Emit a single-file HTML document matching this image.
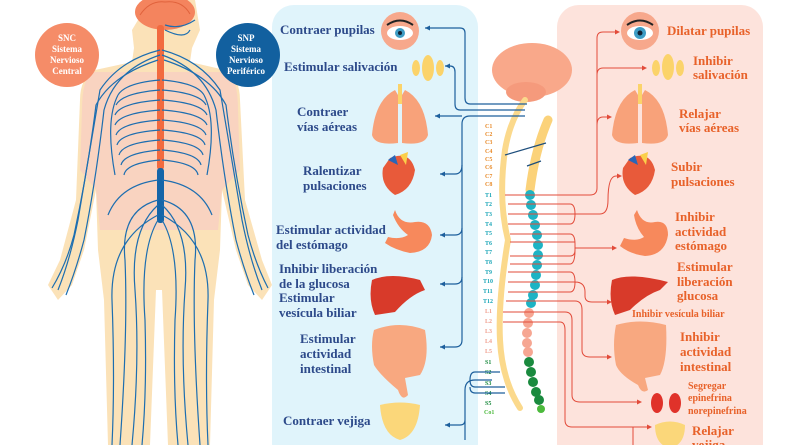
<!DOCTYPE html>
<html><head><meta charset="utf-8"><style>
html,body{margin:0;padding:0;background:#fff;width:800px;height:445px;overflow:hidden}
svg{display:block}
.lb{font-family:"Liberation Serif",serif;font-weight:bold;font-size:13px;fill:#2d4a8a}
.rb{font-family:"Liberation Serif",serif;font-weight:bold;font-size:13px;fill:#e8622a}
.v{font-family:"Liberation Serif",serif;font-weight:bold;font-size:6px}
</style></head><body>
<svg width="800" height="445" viewBox="0 0 800 445" xmlns="http://www.w3.org/2000/svg">
<rect x="272" y="5" width="206" height="460" rx="22" fill="#e0f4fb"/>
<rect x="557" y="5" width="206" height="460" rx="22" fill="#fde3dc"/>

<g>
<path d="M150 0 L195 0 L200 30 L192 48 L190 62 L225 70 Q240 78 240 100 L245 200 L262 260 L272 285 L262 300 L248 285 L236 250 L222 190 L220 250 L214 300 L210 445 L168 445 L162 290 L156 290 L150 445 L108 445 L104 300 L98 250 L96 190 L84 250 L72 285 L58 300 L48 285 L60 260 L76 200 L80 100 Q80 78 95 70 L132 62 L134 48 L132 30 Z" fill="#fbe2b8"/>
<path d="M92 72 L228 72 Q238 80 238 110 L240 170 L222 190 L218 230 L100 230 L96 190 L80 170 L82 110 Q82 80 92 72 Z" fill="#f9d3c0"/>
<ellipse cx="165" cy="12" rx="30" ry="18" fill="#f4845e"/>
<path d="M140 15 Q150 0 165 2 Q182 0 190 14" stroke="#e0623c" fill="none"/>
<rect x="157" y="25" width="7" height="145" rx="3" fill="#f26a3f"/>
<rect x="157" y="168" width="7" height="55" rx="3" fill="#1565a8"/>
<g stroke="#1d6eb0" stroke-width="1.2" fill="none">
<path d="M160 80 Q125 83 118 95 M160 90 Q122 93 116 105 M160 100 Q120 103 115 115 M160 110 Q120 113 115 125 M160 120 Q120 123 116 135 M160 130 Q120 133 117 145 M160 140 Q122 143 119 155 M160 150 Q124 153 121 165 M160 160 Q126 163 124 175"/>
<path d="M162 80 Q197 83 204 95 M162 90 Q200 93 206 105 M162 100 Q202 103 207 115 M162 110 Q202 113 207 125 M162 120 Q202 123 206 135 M162 130 Q202 133 205 145 M162 140 Q200 143 203 155 M162 150 Q198 153 201 165 M162 160 Q196 163 198 175"/>
<path d="M118 95 Q105 120 115 175 M204 95 Q217 120 207 175"/>
<path d="M160 50 Q120 60 100 90 Q90 150 78 220 Q70 260 58 290"/>
<path d="M160 55 Q115 70 104 110 Q96 180 84 240 Q76 270 66 295"/>
<path d="M158 60 Q112 75 96 105 Q88 170 74 235 Q66 265 52 288"/>
<path d="M162 50 Q200 60 220 90 Q230 150 242 220 Q250 260 262 290"/>
<path d="M162 55 Q205 70 216 110 Q224 180 236 240 Q244 270 254 295"/>
<path d="M164 60 Q210 75 226 105 Q234 170 248 235 Q256 265 268 288"/>
<path d="M158 200 Q120 210 125 260 Q128 330 120 445 M158 205 Q130 230 135 290 Q140 360 132 445 M158 215 Q110 240 112 300 Q115 380 112 445 M158 220 Q140 250 145 320 Q147 390 142 445"/>
<path d="M162 200 Q200 210 195 260 Q192 330 200 445 M162 205 Q190 230 185 290 Q180 360 188 445 M162 215 Q210 240 208 300 Q205 380 208 445 M162 220 Q180 250 175 320 Q173 390 178 445"/>
<path d="M158 180 Q120 185 108 215 M162 180 Q200 185 212 215"/>
<path d="M165 25 Q180 30 195 20 M165 30 Q185 40 190 30"/>
</g>
</g>
<circle cx="67" cy="55" r="32" fill="#f58c68"/>
<text x="67" y="41" text-anchor="middle" font-family="Liberation Serif,serif" font-weight="bold" font-size="9" fill="#fff">SNC</text>
<text x="67" y="52" text-anchor="middle" font-family="Liberation Serif,serif" font-weight="bold" font-size="9" fill="#fff">Sistema</text>
<text x="67" y="63" text-anchor="middle" font-family="Liberation Serif,serif" font-weight="bold" font-size="9" fill="#fff">Nervioso</text>
<text x="67" y="74" text-anchor="middle" font-family="Liberation Serif,serif" font-weight="bold" font-size="9" fill="#fff">Central</text>
<circle cx="248" cy="55" r="32" fill="#12609f"/>
<text x="246" y="41" text-anchor="middle" font-family="Liberation Serif,serif" font-weight="bold" font-size="9" fill="#fff">SNP</text>
<text x="246" y="52" text-anchor="middle" font-family="Liberation Serif,serif" font-weight="bold" font-size="9" fill="#fff">Sistema</text>
<text x="246" y="63" text-anchor="middle" font-family="Liberation Serif,serif" font-weight="bold" font-size="9" fill="#fff">Nervioso</text>
<text x="246" y="74" text-anchor="middle" font-family="Liberation Serif,serif" font-weight="bold" font-size="9" fill="#fff">Periférico</text>

<ellipse cx="532" cy="70" rx="40" ry="27" fill="#f9a88a"/>
<ellipse cx="526" cy="92" rx="20" ry="10" fill="#f59a7c"/>
<path d="M525 100 Q510 120 505 150 Q498 200 508 240 Q498 300 500 340 Q502 380 520 408" stroke="#fbd98c" stroke-width="6" fill="none" stroke-linecap="round"/>
<path d="M548 120 Q535 150 530 190" stroke="#fbd27a" stroke-width="9" fill="none" stroke-linecap="round"/>
<g fill="#1db3c4">
<circle cx="530" cy="195" r="5"/><circle cx="531" cy="205" r="5"/><circle cx="533" cy="215" r="5"/><circle cx="535" cy="225" r="5"/><circle cx="537" cy="235" r="5"/><circle cx="538" cy="245" r="5"/><circle cx="538" cy="255" r="5"/><circle cx="537" cy="265" r="5"/><circle cx="536" cy="275" r="5"/><circle cx="535" cy="285" r="5"/><circle cx="533" cy="295" r="5"/><circle cx="531" cy="303" r="5"/>
</g>
<g fill="#f6a692"><circle cx="529" cy="313" r="5"/><circle cx="528" cy="323" r="5"/><circle cx="527" cy="333" r="5"/><circle cx="527" cy="343" r="5"/><circle cx="528" cy="352" r="5"/></g>
<g fill="#1a8a3e"><circle cx="529" cy="362" r="5"/><circle cx="531" cy="372" r="5"/><circle cx="533" cy="382" r="5"/><circle cx="536" cy="392" r="5"/><circle cx="539" cy="400" r="5"/></g>
<circle cx="541" cy="409" r="4" fill="#4cba3c"/>
<path d="M505 155 L546 143 M527 166 L541 161" stroke="#1d4e7c" stroke-width="1.2"/>
<g class="v">
<text x="485" y="128" fill="#e88b2a">C1</text><text x="485" y="136" fill="#e88b2a">C2</text><text x="485" y="144" fill="#e88b2a">C3</text><text x="485" y="153" fill="#e88b2a">C4</text><text x="485" y="161" fill="#e88b2a">C5</text><text x="485" y="169" fill="#e88b2a">C6</text><text x="485" y="178" fill="#e88b2a">C7</text><text x="485" y="186" fill="#e88b2a">C8</text>
<text x="485" y="197" fill="#1ba6b8">T1</text><text x="485" y="206" fill="#1ba6b8">T2</text><text x="485" y="216" fill="#1ba6b8">T3</text><text x="485" y="226" fill="#1ba6b8">T4</text><text x="485" y="235" fill="#1ba6b8">T5</text><text x="485" y="245" fill="#1ba6b8">T6</text><text x="485" y="254" fill="#1ba6b8">T7</text><text x="485" y="264" fill="#1ba6b8">T8</text><text x="485" y="274" fill="#1ba6b8">T9</text><text x="483" y="283" fill="#1ba6b8">T10</text><text x="483" y="293" fill="#1ba6b8">T11</text><text x="483" y="303" fill="#1ba6b8">T12</text>
<text x="485" y="313" fill="#f0a090">L1</text><text x="485" y="323" fill="#f0a090">L2</text><text x="485" y="333" fill="#f0a090">L3</text><text x="485" y="343" fill="#f0a090">L4</text><text x="485" y="353" fill="#f0a090">L5</text>
<text x="485" y="364" fill="#1a8a3e">S1</text><text x="485" y="374" fill="#1a8a3e">S2</text><text x="485" y="385" fill="#1a8a3e">S3</text><text x="485" y="395" fill="#1a8a3e">S4</text><text x="485" y="405" fill="#1a8a3e">S5</text><text x="484" y="414" fill="#4cba3c">Co1</text>
</g>

<g stroke="#1d5f9c" stroke-width="1.2" fill="none">
<path d="M527 104 L470 104 Q465 104 465 98 L465 33 Q465 28 460 28 L425 28"/>
<path d="M525 110 L460 110 Q455 110 455 104 L455 72 Q455 66 450 66 L445 66"/>
<path d="M525 116 L470 116 Q462 116 462 124 L462 340 Q462 347 455 347 L440 347"/>
<path d="M462 116 L435 116 M462 165 Q462 174 455 174 L440 174 M462 228 Q462 235 455 235 L440 235 M462 277 Q462 284 455 284 L440 284"/>
<path d="M500 372 L475 372 Q470 372 470 380 Q470 387 475 387 L505 387 M505 393 L475 393 Q470 393 470 387"/>
<path d="M492 380 L475 380 Q465 380 465 390 L465 440 M465 420 Q465 425 460 425 L445 425"/>
</g>
<g fill="#1d5f9c"><path d="M425 28 l5 -2.5 v5z"/><path d="M445 66 l5 -2.5 v5z"/><path d="M435 116 l5 -2.5 v5z"/><path d="M440 174 l5 -2.5 v5z"/><path d="M440 235 l5 -2.5 v5z"/><path d="M440 284 l5 -2.5 v5z"/><path d="M440 347 l5 -2.5 v5z"/><path d="M445 425 l5 -2.5 v5z"/></g>

<g stroke="#e24b3a" stroke-width="1" fill="none">
<path d="M505 195 L590 195 Q597 195 597 188 L597 38 Q597 32 603 32 L618 32"/>
<path d="M597 75 Q597 68 603 68 L645 68 M597 125 Q597 117 603 117 L610 117"/>
<path d="M508 204 L570 204 Q575 204 575 214 Q575 224 570 224 L508 224 M508 214 L575 214 M575 214 L600 214 Q608 214 608 200 Q608 176 616 176 L620 176"/>
<path d="M510 234 L570 234 Q575 234 575 244 L575 250 Q575 256 570 256 L510 256 M510 242 L575 242 M510 264 L570 264 Q575 264 575 250 M575 248 L615 248"/>
<path d="M508 272 L570 272 Q575 272 575 282 Q575 292 570 292 L508 292 M508 282 L575 282 Q585 282 585 292 L585 296 Q585 302 592 302 L610 302"/>
<path d="M506 301 L575 301 Q582 301 582 310 L582 350 Q582 357 590 357 L610 357"/>
<path d="M503 312 L565 312 Q572 312 572 320 L572 395 Q572 402 580 402 L640 402"/>
<path d="M503 322 L560 322 Q565 322 565 330 L565 420 Q565 427 572 427 L650 427 M633 427 Q633 433 633 445"/>
</g>
<g fill="#e24b3a"><path d="M620 32 l-5 -2.5 v5z"/><path d="M647 68 l-5 -2.5 v5z"/><path d="M612 117 l-5 -2.5 v5z"/><path d="M622 176 l-5 -2.5 v5z"/><path d="M617 248 l-5 -2.5 v5z"/><path d="M612 302 l-5 -2.5 v5z"/><path d="M612 357 l-5 -2.5 v5z"/><path d="M642 402 l-5 -2.5 v5z"/><path d="M652 427 l-5 -2.5 v5z"/></g>

<circle cx="400" cy="31" r="19" fill="#f7a88c"/><ellipse cx="400" cy="33" rx="13" ry="7" fill="#fff"/><circle cx="400" cy="33" r="5" fill="#3d9cc4"/><circle cx="400" cy="33" r="2" fill="#123"/><path d="M387 25 Q400 16 413 25" stroke="#222" stroke-width="2" fill="none"/>
<g fill="#fbd36a"><ellipse cx="416" cy="68" rx="4" ry="8"/><ellipse cx="428" cy="68" rx="6" ry="13"/><ellipse cx="440" cy="68" rx="4" ry="8"/></g>
<g fill="#f8a27a"><path d="M395 90 Q375 100 372 135 Q375 146 398 143 L398 95 Z"/><path d="M405 90 Q425 100 428 135 Q425 146 402 143 L402 95 Z"/></g><rect x="398" y="84" width="4" height="20" fill="#fbd36a"/>
<path d="M390 158 Q410 150 415 170 Q412 190 395 195 Q380 185 383 168 Z" fill="#e85a3a"/><path d="M388 160 L395 155 L398 165 Z" fill="#2966b8"/><path d="M400 155 L408 152 L406 165 Z" fill="#fbcf4a"/>
<path d="M395 210 Q400 225 415 222 Q430 220 432 235 Q430 252 410 253 Q395 250 385 243 L388 237 Q400 240 408 235 Q398 228 393 215 Z" fill="#f7895c"/>
<path d="M372 280 Q390 272 420 280 L425 290 Q410 295 395 312 L375 315 Q368 300 372 280 Z" fill="#d83a2a"/>
<path d="M374 330 Q400 320 425 330 Q430 360 420 375 L405 378 L408 395 Q402 402 398 390 Q380 375 374 365 Q370 345 374 330 Z" fill="#f8a880"/>
<path d="M380 405 Q400 400 420 405 Q418 435 400 440 Q382 435 380 405 Z" fill="#fbd77a"/>

<circle cx="640" cy="31" r="19" fill="#f7a88c"/><ellipse cx="640" cy="33" rx="13" ry="7" fill="#fff"/><circle cx="640" cy="33" r="6" fill="#3d9cc4"/><circle cx="640" cy="33" r="2.5" fill="#123"/><path d="M627 25 Q640 16 653 25" stroke="#222" stroke-width="2" fill="none"/>
<g fill="#fbd36a"><ellipse cx="656" cy="68" rx="4" ry="8"/><ellipse cx="668" cy="67" rx="6" ry="13"/><ellipse cx="680" cy="68" rx="4" ry="8"/></g>
<g fill="#f8a27a"><path d="M635 90 Q615 100 612 135 Q615 146 638 143 L638 95 Z"/><path d="M645 90 Q665 100 668 135 Q665 146 642 143 L642 95 Z"/></g><rect x="638" y="84" width="4" height="20" fill="#fbd36a"/>
<path d="M630 158 Q650 150 655 170 Q652 190 635 195 Q620 185 623 168 Z" fill="#e85a3a"/><path d="M628 160 L635 155 L638 165 Z" fill="#2966b8"/><path d="M640 155 L648 152 L646 165 Z" fill="#fbcf4a"/>
<path d="M637 210 Q642 225 655 222 Q668 220 668 235 Q665 255 645 256 Q630 254 620 246 L624 238 Q636 242 644 237 Q636 228 634 215 Z" fill="#f7895c"/>
<path d="M612 280 Q630 272 668 282 L660 290 Q645 295 630 310 L615 315 Q608 300 612 280 Z" fill="#d83a2a"/>
<path d="M616 325 Q640 318 666 325 Q668 360 660 375 L645 378 L648 390 Q642 395 638 385 Q620 375 616 365 Q612 345 616 325 Z" fill="#f8a880"/>
<ellipse cx="657" cy="403" rx="6" ry="10" fill="#e0322a"/><ellipse cx="675" cy="403" rx="6" ry="10" fill="#e0322a"/>
<path d="M655 425 Q670 418 685 425 Q685 445 670 448 Q655 445 655 425 Z" fill="#fbd77a"/>

<text class="lb" x="280" y="34">Contraer pupilas</text>
<text class="lb" x="284" y="71">Estimular salivación</text>
<text class="lb" x="297" y="116">Contraer</text>
<text class="lb" x="297" y="131">vías aéreas</text>
<text class="lb" x="303" y="175">Ralentizar</text>
<text class="lb" x="303" y="190">pulsaciones</text>
<text class="lb" x="276" y="234">Estimular actividad</text>
<text class="lb" x="276" y="249">del estómago</text>
<text class="lb" x="279" y="273">Inhibir liberación</text>
<text class="lb" x="279" y="288">de la glucosa</text>
<text class="lb" x="279" y="302">Estimular</text>
<text class="lb" x="279" y="317">vesícula biliar</text>
<text class="lb" x="300" y="343">Estimular</text>
<text class="lb" x="300" y="358">actividad</text>
<text class="lb" x="300" y="373">intestinal</text>
<text class="lb" x="283" y="425">Contraer vejiga</text>

<text class="rb" x="667" y="35">Dilatar pupilas</text>
<text class="rb" x="693" y="65">Inhibir</text>
<text class="rb" x="693" y="79">salivación</text>
<text class="rb" x="679" y="118">Relajar</text>
<text class="rb" x="679" y="132">vías aéreas</text>
<text class="rb" x="671" y="171">Subir</text>
<text class="rb" x="671" y="186">pulsaciones</text>
<text class="rb" x="675" y="221">Inhibir</text>
<text class="rb" x="675" y="236">actividad</text>
<text class="rb" x="675" y="250">estómago</text>
<text class="rb" x="677" y="271">Estimular</text>
<text class="rb" x="677" y="286">liberación</text>
<text class="rb" x="677" y="300">glucosa</text>
<text class="rb" x="632" y="317" style="font-size:10px">Inhibir vesícula biliar</text>
<text class="rb" x="680" y="341">Inhibir</text>
<text class="rb" x="680" y="356">actividad</text>
<text class="rb" x="680" y="371">intestinal</text>
<text class="rb" x="688" y="389" style="font-size:10px">Segregar</text>
<text class="rb" x="688" y="401" style="font-size:10px">epinefrina</text>
<text class="rb" x="688" y="414" style="font-size:10px">norepinefrina</text>
<text class="rb" x="692" y="435">Relajar</text>
<text class="rb" x="692" y="449">vejiga</text>
</svg>
</body></html>
